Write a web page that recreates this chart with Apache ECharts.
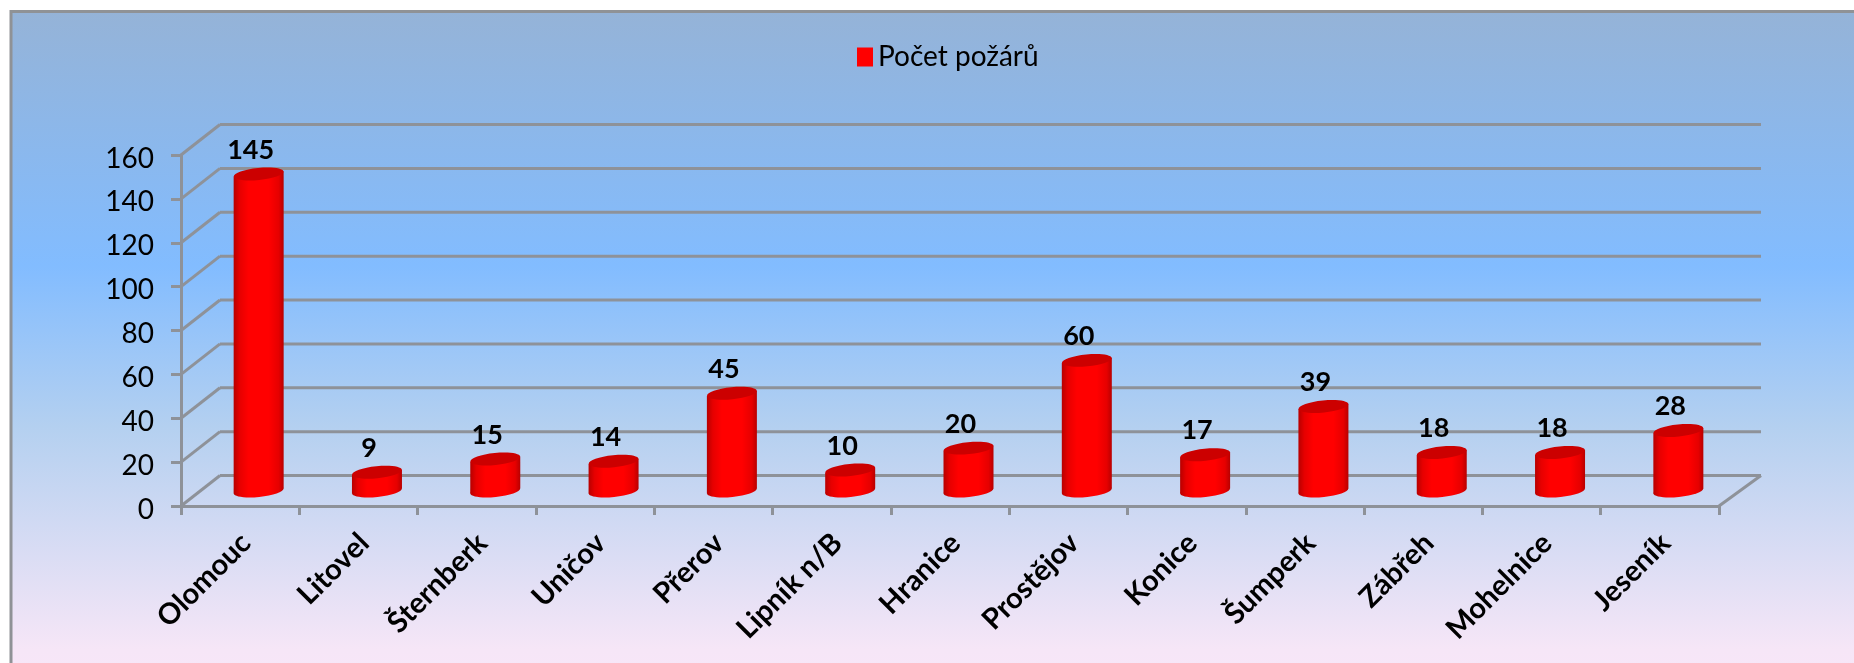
<!DOCTYPE html>
<html>
<head>
<meta charset="utf-8">
<style>html,body{margin:0;padding:0;background:#fff}#c{width:1854px;height:663px}</style>
<script src="https://cdn.jsdelivr.net/npm/echarts@6/dist/echarts.min.js"></script>
</head>
<body>
<div id="c"></div>
<script>
const categories = ['Olomouc','Litovel','Šternberk','Uničov','Přerov','Lipník n/B','Hranice','Prostějov','Konice','Šumperk','Zábřeh','Mohelnice','Jeseník'];
const values = [145,9,15,14,45,10,20,60,17,39,18,18,28];
const yTicks = [0,20,40,60,80,100,120,140,160];
const seriesName = 'Počet požárů';

const DEPTH_X = 39, DEPTH_Y = 30.5, LINE = '#8e9299';
const FONT = 'Lato, Carlito, "Open Sans", sans-serif';
const chart = echarts.init(document.getElementById('c'));

function wallItem(params, api) {
  const v = api.value(0);
  const bandL = api.coord([0, v]);
  const halfBand = api.size([1, 0])[0] / 2;
  const x0 = bandL[0] - halfBand, y0 = bandL[1];
  const x1 = api.coord([categories.length - 1, v])[0] + halfBand;
  const style = {stroke: LINE, lineWidth: 3, fill: null};
  const children = [
    {type:'line', shape:{x1:x0, y1:y0, x2:x0+DEPTH_X, y2:y0-DEPTH_Y}, style},
    {type:'line', shape:{x1:x0+DEPTH_X, y1:y0-DEPTH_Y, x2:x1+DEPTH_X+3, y2:y0-DEPTH_Y}, style}
  ];
  if (v === 0) children.push({type:'line', shape:{x1:x1, y1:y0, x2:x1+DEPTH_X+3, y2:y0-DEPTH_Y}, style});
  return {type:'group', children};
}

function barItem(params, api) {
  const idx = api.value(0), v = api.value(1);
  const base = api.coord([idx, 0]), top = api.coord([idx, v]);
  const cx = base[0] + 18.5, by = base[1] - 15, ty = top[1] - 14;
  const rx = 25, ry = 6, tilt = 2.6;
  const grad = new echarts.graphic.LinearGradient(0,0,1,0,[
    {offset:0,color:'#b80000'},{offset:0.12,color:'#e60000'},{offset:0.3,color:'#ff0000'},
    {offset:0.7,color:'#ff0000'},{offset:0.9,color:'#e60000'},{offset:1,color:'#b80000'}]);
  return {type:'group', children:[
    {type:'ellipse', shape:{cx, cy:by, rx, ry}, rotation:0.1, originX:cx, originY:by, style:{fill:grad}},
    {type:'polygon', shape:{points:[[cx-rx,ty+tilt],[cx+rx,ty-tilt],[cx+rx,by-tilt],[cx-rx,by+tilt]]}, style:{fill:grad}},
    {type:'ellipse', shape:{cx, cy:ty, rx, ry}, rotation:0.1, originX:cx, originY:ty, style:{fill:'#cc0000'}},
    {type:'text', x:cx-8, y:ty-24, style:{text:String(v), fill:'#000', font:'bold 27px '+FONT, align:'center', verticalAlign:'middle'}}
  ]};
}

chart.setOption({
  animation:false,
  backgroundColor:'#fff',
  graphic:[{type:'rect', z:-10, shape:{x:11,y:11.5,width:1900,height:670},
    style:{stroke:'#8f9296',lineWidth:3,fill:new echarts.graphic.LinearGradient(0,0,0,1,[
      {offset:0,color:'#95b3d7'},{offset:0.38,color:'#82bcff'},{offset:0.62,color:'#b4d0f0'},{offset:0.95,color:'#f6e6f7'},{offset:1,color:'#f8e6f8'}])}}],
  legend:{data:[seriesName], left:852, top:38, itemWidth:16, itemHeight:19, itemGap:8,
    icon:'rect', textStyle:{fontFamily:FONT,fontSize:28,color:'#000'}},
  grid:{left:181, top:155, width:1538, height:351},
  xAxis:{type:'category', data:categories,
    axisLine:{lineStyle:{color:LINE,width:3}},
    axisTick:{show:true,length:9,alignWithLabel:false,lineStyle:{color:LINE,width:3}},
    axisLabel:{rotate:45,interval:0,margin:38,padding:[0,-8,0,0],fontFamily:FONT,fontSize:29,fontWeight:'bold',color:'#000'}},
  yAxis:{type:'value',min:0,max:160,interval:20,
    axisLine:{show:true,lineStyle:{color:LINE,width:3}},
    axisTick:{show:true,length:10,lineStyle:{color:LINE,width:3}},
    splitLine:{show:false},
    axisLabel:{margin:27,verticalAlign:'top',padding:[-10.5,0,0,0],fontFamily:FONT,fontSize:28,color:'#000'}},
  series:[
    {type:'custom',name:'walls',silent:true,z:1,renderItem:wallItem,data:yTicks.map(v=>[v]),encode:{y:0},clip:false},
    {type:'custom',name:seriesName,z:3,itemStyle:{color:'#ff0000'},renderItem:barItem,
      data:values.map((v,i)=>[i,v]),encode:{x:0,y:1},clip:false}
  ]
});
</script>
</body>
</html>
